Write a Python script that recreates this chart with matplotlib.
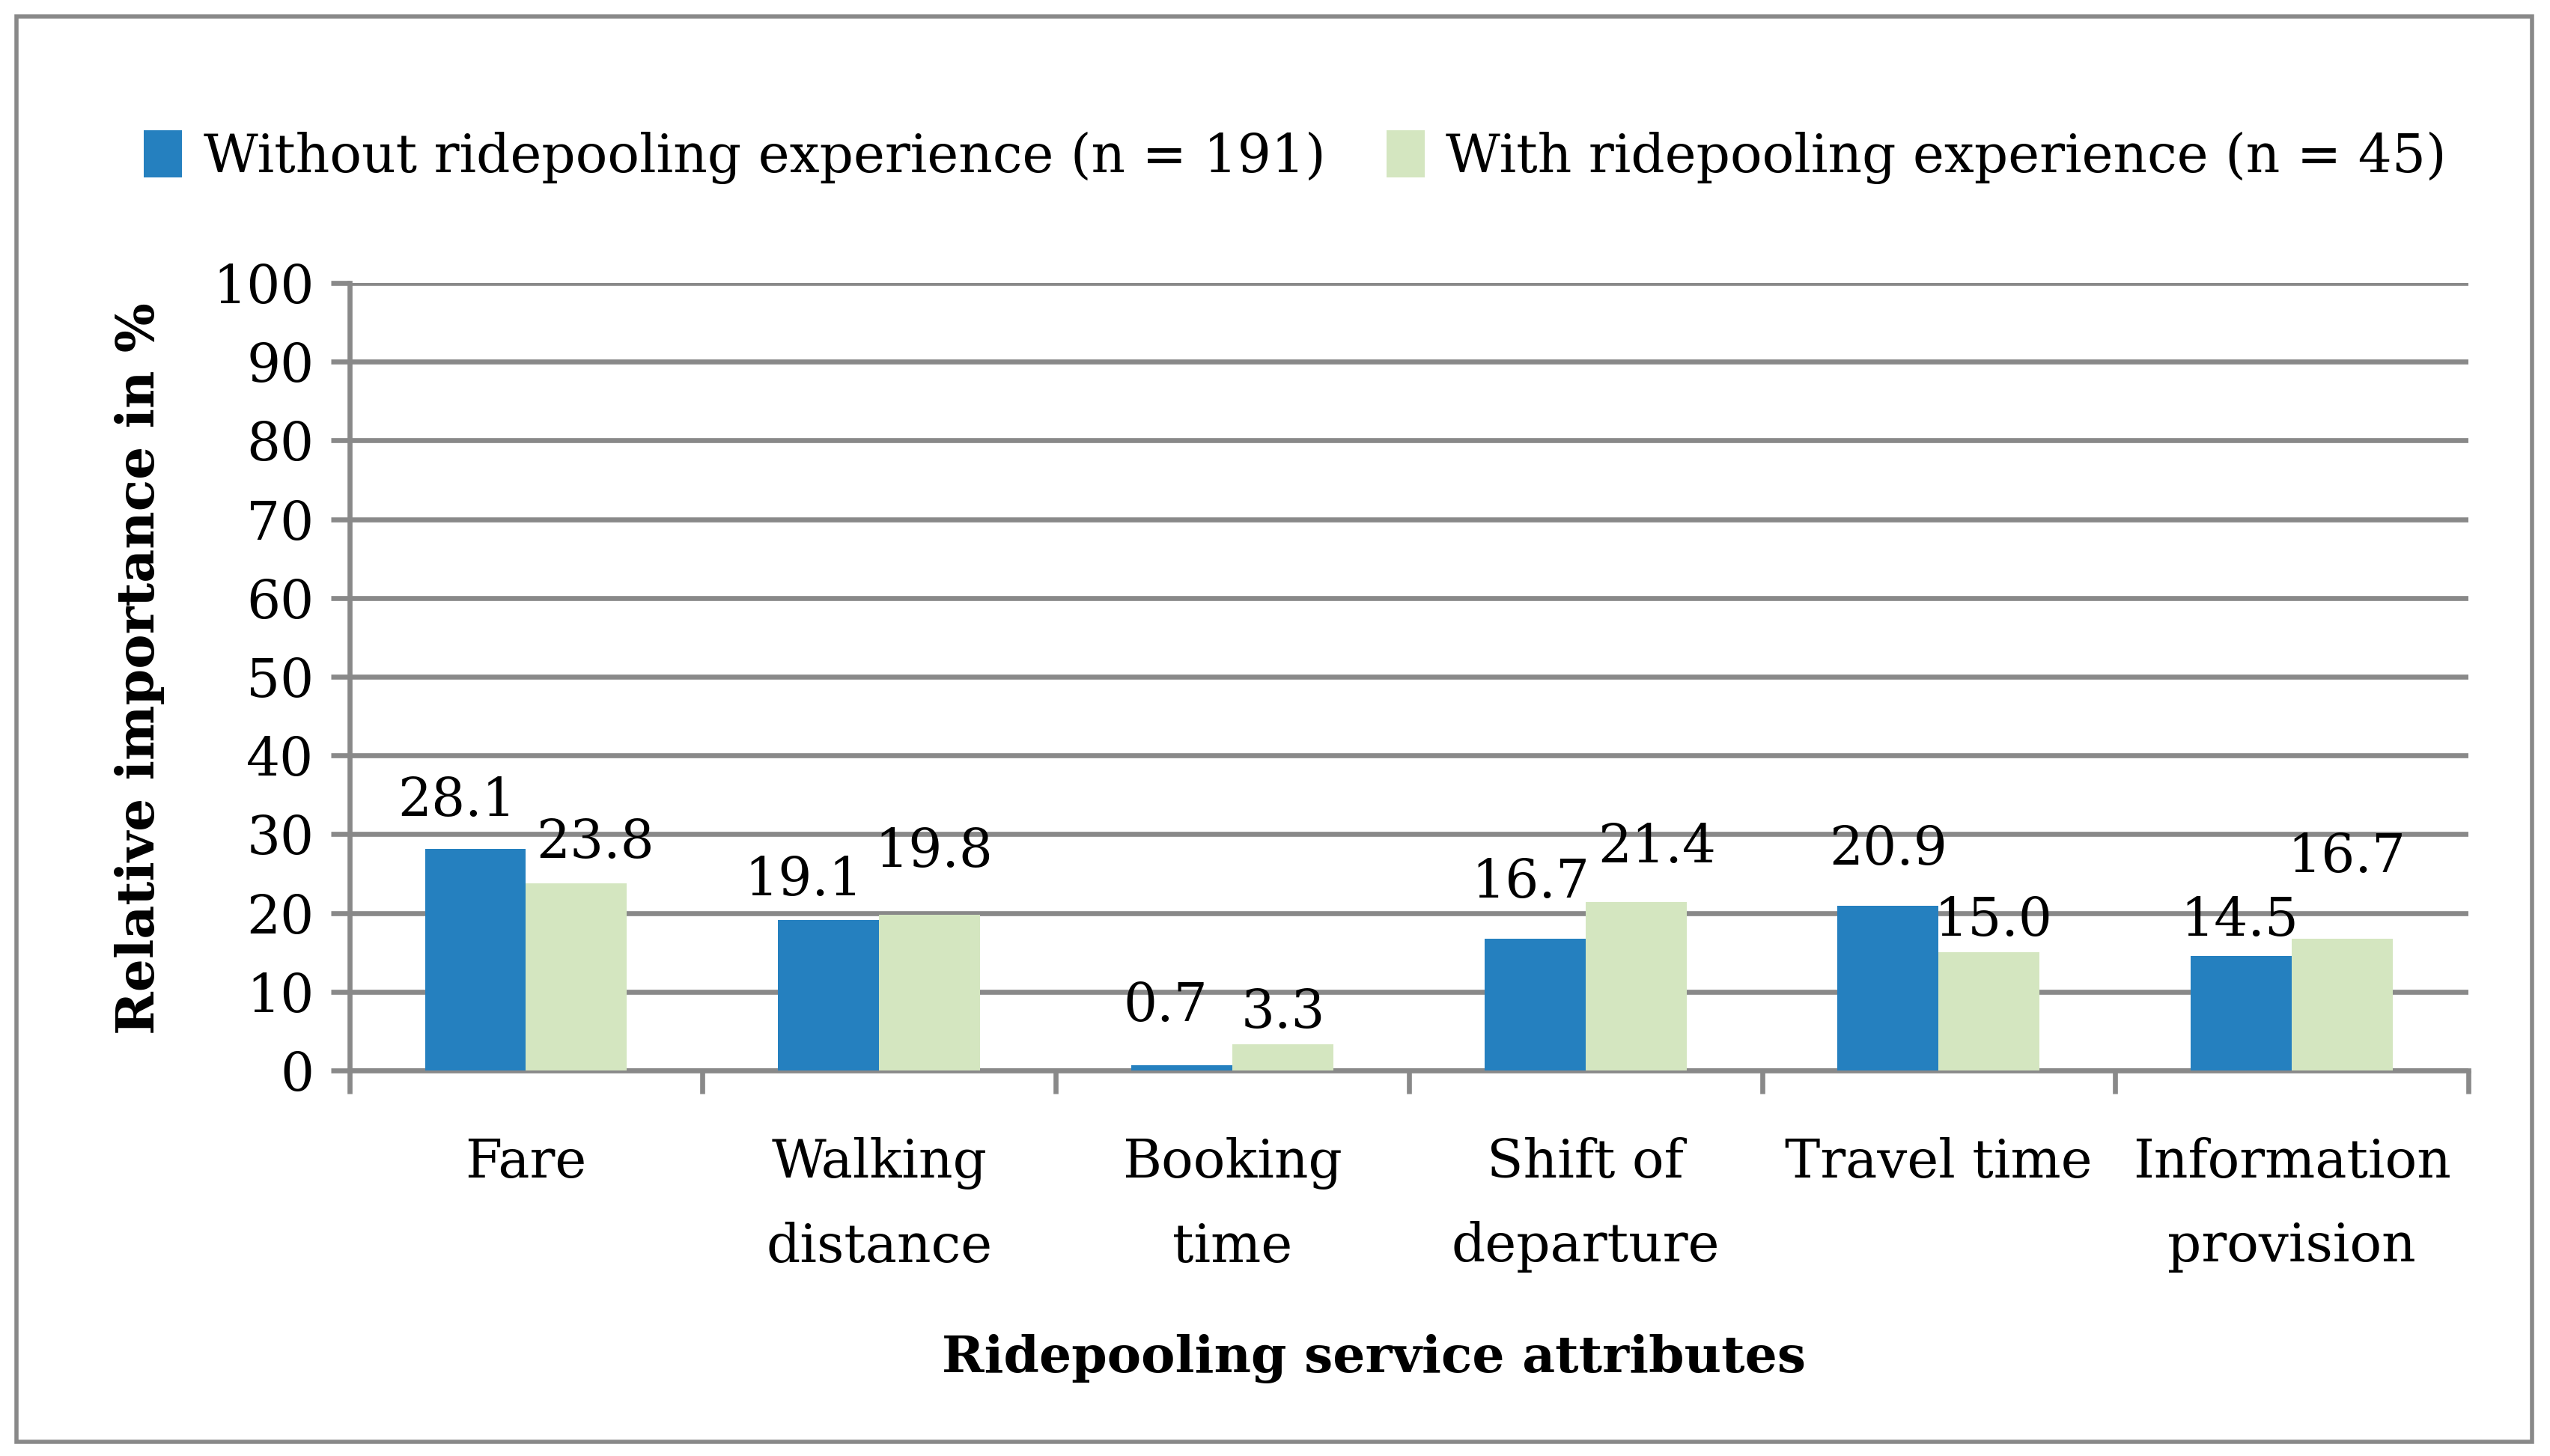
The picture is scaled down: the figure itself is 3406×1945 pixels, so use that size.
import matplotlib.pyplot as plt
import matplotlib.patches as mpatches
import numpy as np

# data
categories = ["Fare", "Walking\ndistance", "Booking\ntime", "Shift of\ndeparture",
              "Travel time", "Information\nprovision"]
without_exp = [28.1, 19.1, 0.7, 16.7, 20.9, 14.5]
with_exp = [23.8, 19.8, 3.3, 21.4, 15.0, 16.7]
series_names = ["Without ridepooling experience (n = 191)",
                "With ridepooling experience (n = 45)"]
y_ticks = list(range(0, 101, 10))

# label offsets (dx, gap above bar) in points, tweaked by eye
offs_without = [(-9, 16), (-12, 12), (-8, 21), (-2, 20), (0, 20), (-1, 10)]
offs_with = [(9, 12), (2, 23), (0, 8), (10, 19), (2, 8), (2, 32)]

BLUE = "#2580bf"
GREEN = "#d4e6c0"
GRID = "#898989"
FONT = "DejaVu Serif"
FS = 25.5

plt.rcParams["font.family"] = FONT

fig = plt.figure(figsize=(17.03, 9.725), dpi=200)
ax = fig.add_axes([0.137, 0.2648, 0.831, 0.5408])

x = np.arange(len(categories))
w = 0.286
b1 = ax.bar(x - w / 2, without_exp, w, color=BLUE, label=series_names[0], zorder=3)
b2 = ax.bar(x + w / 2, with_exp, w, color=GREEN, label=series_names[1], zorder=3)

for bars, vals, offs in ((b1, without_exp, offs_without), (b2, with_exp, offs_with)):
    for rect, v, (dx, dy) in zip(bars, vals, offs):
        ax.annotate(f"{v:.1f}", (rect.get_x() + rect.get_width() / 2, rect.get_height()),
                    xytext=(dx, dy), textcoords="offset points",
                    ha="center", va="baseline", fontsize=FS)

ax.set_ylim(0, 100)
ax.set_xlim(-0.5, len(categories) - 0.5)
ax.set_yticks(y_ticks)
ax.yaxis.grid(True, color=GRID, linewidth=2.4, zorder=0)
ax.set_axisbelow(True)
ax.tick_params(axis="y", length=9, width=2.4, color=GRID, labelsize=FS, pad=8)

ax.set_xticks(x)
ax.set_xticklabels(categories, fontsize=FS, linespacing=1.8)
ax.set_xticks(np.arange(-0.5, len(categories)), minor=True)
ax.tick_params(axis="x", which="major", length=0, pad=32)
ax.tick_params(axis="x", which="minor", length=11, width=2.4, color=GRID)

for s in ("top", "right"):
    ax.spines[s].set_visible(False)
for s in ("left", "bottom"):
    ax.spines[s].set_color(GRID)
    ax.spines[s].set_linewidth(2.4)

ax.set_ylabel("Relative importance in %", fontsize=25, fontweight="bold")
ax.yaxis.set_label_coords(-0.087, 0.51)
ax.set_xlabel("Ridepooling service attributes", fontsize=24.5, fontweight="bold")
ax.xaxis.set_label_coords(0.4835, -0.366)
ax.xaxis.label.set_va("center")

fig.legend(handles=[b1, b2], loc="center", bbox_to_anchor=(0.508, 0.892), ncol=2,
           frameon=False, fontsize=FS, handlelength=0.72, handleheight=1.0,
           handletextpad=0.4, columnspacing=1.15)

# grey frame round the whole chart
fig.patches.append(mpatches.Rectangle((0.0064, 0.0100), 0.9866, 0.9788, transform=fig.transFigure,
                                      fill=False, edgecolor=GRID, linewidth=2))

fig.savefig("out.png", dpi=200)
